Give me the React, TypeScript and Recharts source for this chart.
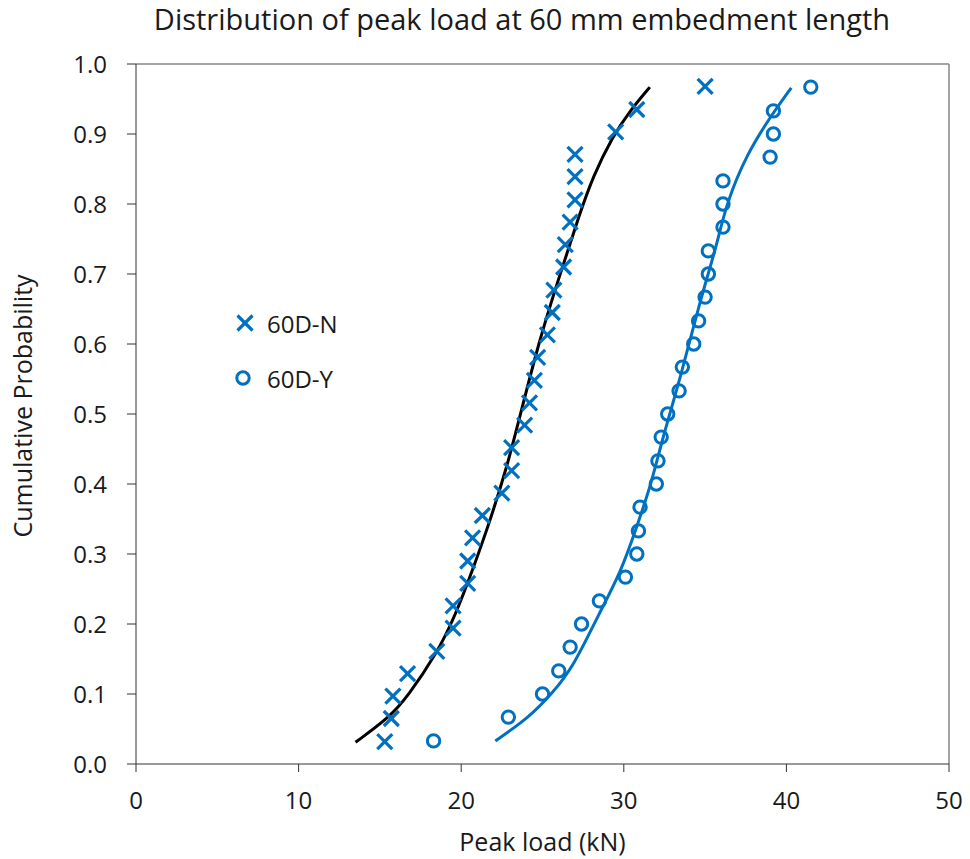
import { ComposedChart, Scatter, Line, XAxis, YAxis, ReferenceLine } from 'recharts';

// 60D-N measured peak loads (kN) and their plotting positions
const loadN = [15.3, 15.7, 15.8, 16.7, 18.5, 19.5, 19.5, 20.4, 20.4, 20.7, 21.3, 22.5, 23.1, 23.1, 23.9, 24.2, 24.5, 24.7, 25.3, 25.6, 25.7, 26.3, 26.4, 26.7, 27.0, 27.0, 27.0, 29.5, 30.8, 35.0];
const probN = [0.032, 0.065, 0.097, 0.129, 0.161, 0.194, 0.226, 0.258, 0.29, 0.323, 0.355, 0.387, 0.419, 0.452, 0.484, 0.516, 0.548, 0.581, 0.613, 0.645, 0.677, 0.71, 0.742, 0.774, 0.806, 0.839, 0.871, 0.903, 0.935, 0.968];

// 60D-Y measured peak loads (kN)
const loadY = [18.3, 22.9, 25.0, 26.0, 26.7, 27.4, 28.5, 30.1, 30.8, 30.9, 31.0, 32.0, 32.1, 32.3, 32.7, 33.4, 33.6, 34.3, 34.6, 35.0, 35.2, 35.2, 36.1, 36.1, 36.1, 39.0, 39.2, 39.2, 41.5];
const probY = [0.033, 0.067, 0.1, 0.133, 0.167, 0.2, 0.233, 0.267, 0.3, 0.333, 0.367, 0.4, 0.433, 0.467, 0.5, 0.533, 0.567, 0.6, 0.633, 0.667, 0.7, 0.733, 0.767, 0.8, 0.833, 0.867, 0.9, 0.933, 0.967];

// fitted cumulative curves
const fitNLoad = [13.5, 15.6, 16.7, 18.5, 19.6, 20.7, 21.8, 22.8, 23.4, 24.8, 26.1, 27.3, 28.1, 29.3, 30.4, 31.6];
const fitNProb = [0.031, 0.067, 0.096, 0.158, 0.21, 0.277, 0.349, 0.424, 0.477, 0.606, 0.701, 0.787, 0.839, 0.896, 0.934, 0.967];
const fitYLoad = [22.1, 24.2, 25.6, 26.9, 28.5, 29.8, 30.8, 31.7, 32.4, 33.5, 34.7, 35.7, 36.3, 37.6, 39.0, 40.3];
const fitYProb = [0.033, 0.067, 0.101, 0.139, 0.216, 0.273, 0.339, 0.401, 0.467, 0.553, 0.663, 0.739, 0.801, 0.873, 0.924, 0.966];

const xTicks = [0, 10, 20, 30, 40, 50];
const yTicks = [0, 0.1, 0.2, 0.3, 0.4, 0.5, 0.6, 0.7, 0.8, 0.9, 1.0];

const BLUE = '#0070C0';
const FONT = '"Open Sans", Lato, sans-serif';
const TEXT = '#1a1a1a';

const zip = (xs: number[], ys: number[]) => xs.map((x, i) => ({ x, y: ys[i] }));

const pointsN = zip(loadN, probN);
const pointsY = zip(loadY, probY);
const curveN = zip(fitNLoad, fitNProb);
const curveY = zip(fitYLoad, fitYProb);

function Cross({ cx, cy }: any) {
  const s = 7.5;
  return (
    <g stroke={BLUE} strokeWidth={3.2}>
      <line x1={cx - s} y1={cy - s} x2={cx + s} y2={cy + s} />
      <line x1={cx - s} y1={cy + s} x2={cx + s} y2={cy - s} />
    </g>
  );
}

function Ring({ cx, cy }: any) {
  return <circle cx={cx} cy={cy} r={6.2} fill="none" stroke={BLUE} strokeWidth={3} />;
}

function LegendRow({ top, label, children }: any) {
  return (
    <div style={{ position: 'absolute', left: 229, top, height: 34, display: 'flex', alignItems: 'center' }}>
      <svg width={32} height={30}>{children}</svg>
      <span style={{ marginLeft: 6, fontFamily: FONT, fontSize: 24, color: TEXT }}>{label}</span>
    </div>
  );
}

export default function App() {
  return (
    <div style={{ position: 'absolute', left: 0, top: 0, width: 970, height: 859, background: '#fff' }}>
      <div
        style={{
          position: 'absolute',
          left: 0,
          width: 1044,
          top: -1,
          textAlign: 'center',
          fontFamily: FONT,
          fontSize: 29,
          color: TEXT,
          whiteSpace: 'nowrap',
        }}
      >
        Distribution of peak load at 60 mm embedment length
      </div>
      <div style={{ position: 'absolute', left: 0, top: 0 }}>
        <ComposedChart width={970} height={859} margin={{ top: 64, right: 21, bottom: 5, left: 15 }}>
          <XAxis
            type="number"
            dataKey="x"
            domain={[0, 50]}
            ticks={xTicks}
            allowDataOverflow
            height={90}
            stroke="#333"
            tickSize={8}
            tickMargin={20}
            tick={{ fontFamily: FONT, fontSize: 24, fill: TEXT }}
            label={{ value: 'Peak load (kN)', position: 'insideBottom', offset: 3, style: { fontFamily: FONT, fontSize: 25, fill: TEXT } }}
          />
          <YAxis
            type="number"
            dataKey="y"
            domain={[0, 1]}
            ticks={yTicks}
            width={121}
            stroke="#333"
            tickSize={9}
            tickMargin={20}
            tickFormatter={(v: number) => v.toFixed(1)}
            tick={{ fontFamily: FONT, fontSize: 24, fill: TEXT }}
            label={{ value: 'Cumulative Probability', angle: -90, position: 'insideLeft', offset: 8, dy: -8, style: { textAnchor: 'middle', fontFamily: FONT, fontSize: 25, fill: TEXT } }}
          />
          <ReferenceLine y={1} stroke="#868686" strokeWidth={1.5} />
          <ReferenceLine x={50} stroke="#868686" strokeWidth={1.5} />
          <Line data={curveN} dataKey="y" type="basis" stroke="#000" strokeWidth={3} dot={false} isAnimationActive={false} />
          <Line data={curveY} dataKey="y" type="basis" stroke={BLUE} strokeWidth={3} dot={false} isAnimationActive={false} />
          <Scatter name="60D-N" data={pointsN} dataKey="y" shape={Cross} isAnimationActive={false} />
          <Scatter name="60D-Y" data={pointsY} dataKey="y" shape={Ring} isAnimationActive={false} />
        </ComposedChart>
      </div>
      <LegendRow top={306} label="60D-N">
        <Cross cx={16} cy={15} />
      </LegendRow>
      <LegendRow top={361} label="60D-Y">
        <Ring cx={14} cy={15} />
      </LegendRow>
    </div>
  );
}
